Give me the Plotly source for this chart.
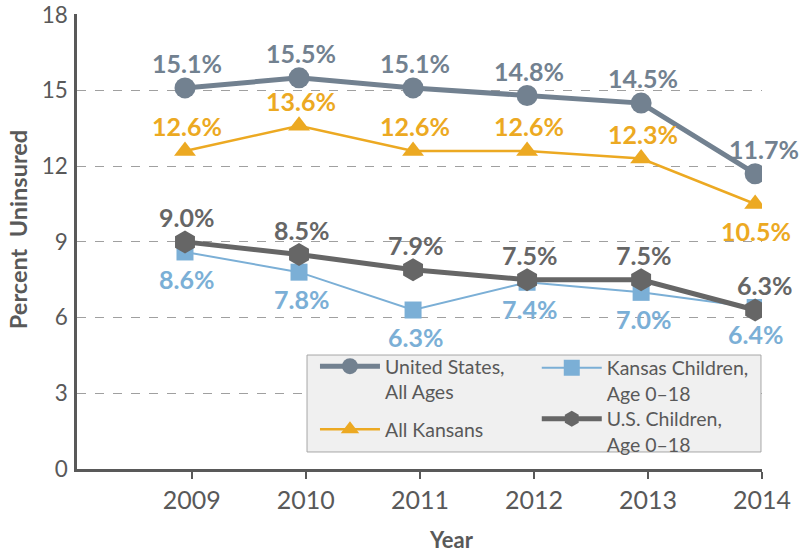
import plotly.graph_objects as go

years = [2009, 2010, 2011, 2012, 2013, 2014]
year_labels = ["2009", "2010", "2011", "2012", "2013", "2014"]
us_all = [15.1, 15.5, 15.1, 14.8, 14.5, 11.7]
ks_all = [12.6, 13.6, 12.6, 12.6, 12.3, 10.5]
ks_children = [8.6, 7.8, 6.3, 7.4, 7.0, 6.4]
us_children = [9.0, 8.5, 7.9, 7.5, 7.5, 6.3]
y_ticks = [0, 3, 6, 9, 12, 15, 18]

C_US = "#728190"
C_KS = "#eca922"
C_KC = "#7bafd6"
C_USC = "#666666"
AX = "#595959"
FONT = "Lato"

fig = go.Figure()

# name, data, color, line width, symbol, size, legend id, label sides, last-point x shift
series = [
    ("All Kansans", ks_all, C_KS, 2.5, "triangle-up", 19, "legend3", [1, 1, 1, 1, 1, -1], 1),
    ("Kansas Children,<br>Age 0–18", ks_children, C_KC, 2, "square", 17, "legend2", [-1] * 6, 0),
    ("U.S. Children,<br>Age 0–18", us_children, C_USC, 5, "hexagon", 23, "legend4", [1] * 6, 9),
    ("United States,<br>All Ages", us_all, C_US, 5, "circle", 21, "legend", [1] * 6, 9),
]

for name, vals, col, w, sym, sz, leg, sides, lastdx in series:
    fig.add_trace(go.Scatter(
        x=years, y=vals, name=name, mode="lines+markers",
        line=dict(color=col, width=w),
        marker=dict(symbol=sym, size=sz, color=col, line=dict(width=0)),
        legend=leg,
    ))
    for i, (x, v) in enumerate(zip(years, vals)):
        fig.add_annotation(
            x=x, y=v, text=f"{v:.1f}%", showarrow=False,
            xshift=(lastdx if i == len(years) - 1 else 2),
            yshift=25 * sides[i] + (-2 if sides[i] < 0 else 0),
            font=dict(family=FONT, size=25, color=col, weight="bold"),
        )

tick_offset = 0.06
fig.update_xaxes(
    range=[2008.053, 2014.06],
    tickvals=[y + tick_offset for y in years], ticktext=year_labels,
    ticks="outside", ticklen=7, tickwidth=2, tickcolor=AX,
    showline=True, linecolor=AX, linewidth=2.5,
    showgrid=False, zeroline=False,
    tickfont=dict(family=FONT, size=25, color=AX),
)
fig.update_yaxes(
    range=[0, 18.03], tickvals=y_ticks,
    showline=True, linecolor=AX, linewidth=2.5,
    showgrid=True, gridcolor="#a0a0a0", gridwidth=1.3, griddash="dash",
    zeroline=False, ticks="", ticklabelstandoff=2,
    tickfont=dict(family=FONT, size=22.5, color=AX),
)

fig.add_annotation(
    text="Year", xref="paper", yref="paper", x=0.546, y=0, yshift=-70,
    xanchor="center", yanchor="middle",
    showarrow=False, font=dict(family=FONT, size=22, color=AX, weight="bold"),
)
fig.add_annotation(
    text="Percent  Uninsured", xref="paper", yref="paper", x=0, xshift=-59, y=0.525,
    xanchor="center", yanchor="middle",
    textangle=-90, showarrow=False,
    font=dict(family=FONT, size=23.5, color=AX, weight="bold"),
)

# legend box background
fig.add_shape(
    type="rect", xref="paper", yref="paper",
    x0=0.3358, x1=0.9985, y0=0.0374, y1=0.2505,
    fillcolor="#f0f0f0", line=dict(color="#a6a6a6", width=1), layer="above",
)

leg_common = dict(
    bgcolor="rgba(0,0,0,0)", borderwidth=0, xanchor="left", yanchor="middle",
    font=dict(family=FONT, size=19.5, color=AX), itemwidth=60, itemsizing="trace",
    valign="top",
)
fig.update_layout(
    width=799, height=552,
    margin=dict(l=77, r=37, t=14, b=83, autoexpand=False),
    plot_bgcolor="white", paper_bgcolor="white",
    font=dict(family=FONT, color=AX),
    showlegend=True,
    legend=dict(x=0.3474, y=0.1978, **leg_common),
    legend2=dict(x=0.6712, y=0.1945, **leg_common),
    legend3=dict(x=0.3474, y=0.0868, **leg_common),
    legend4=dict(x=0.6712, y=0.0824, **leg_common),
)

fig.write_html(
    "out.html",
    config={"displayModeBar": False},
    post_script="document.body.style.margin='0px';",
)
